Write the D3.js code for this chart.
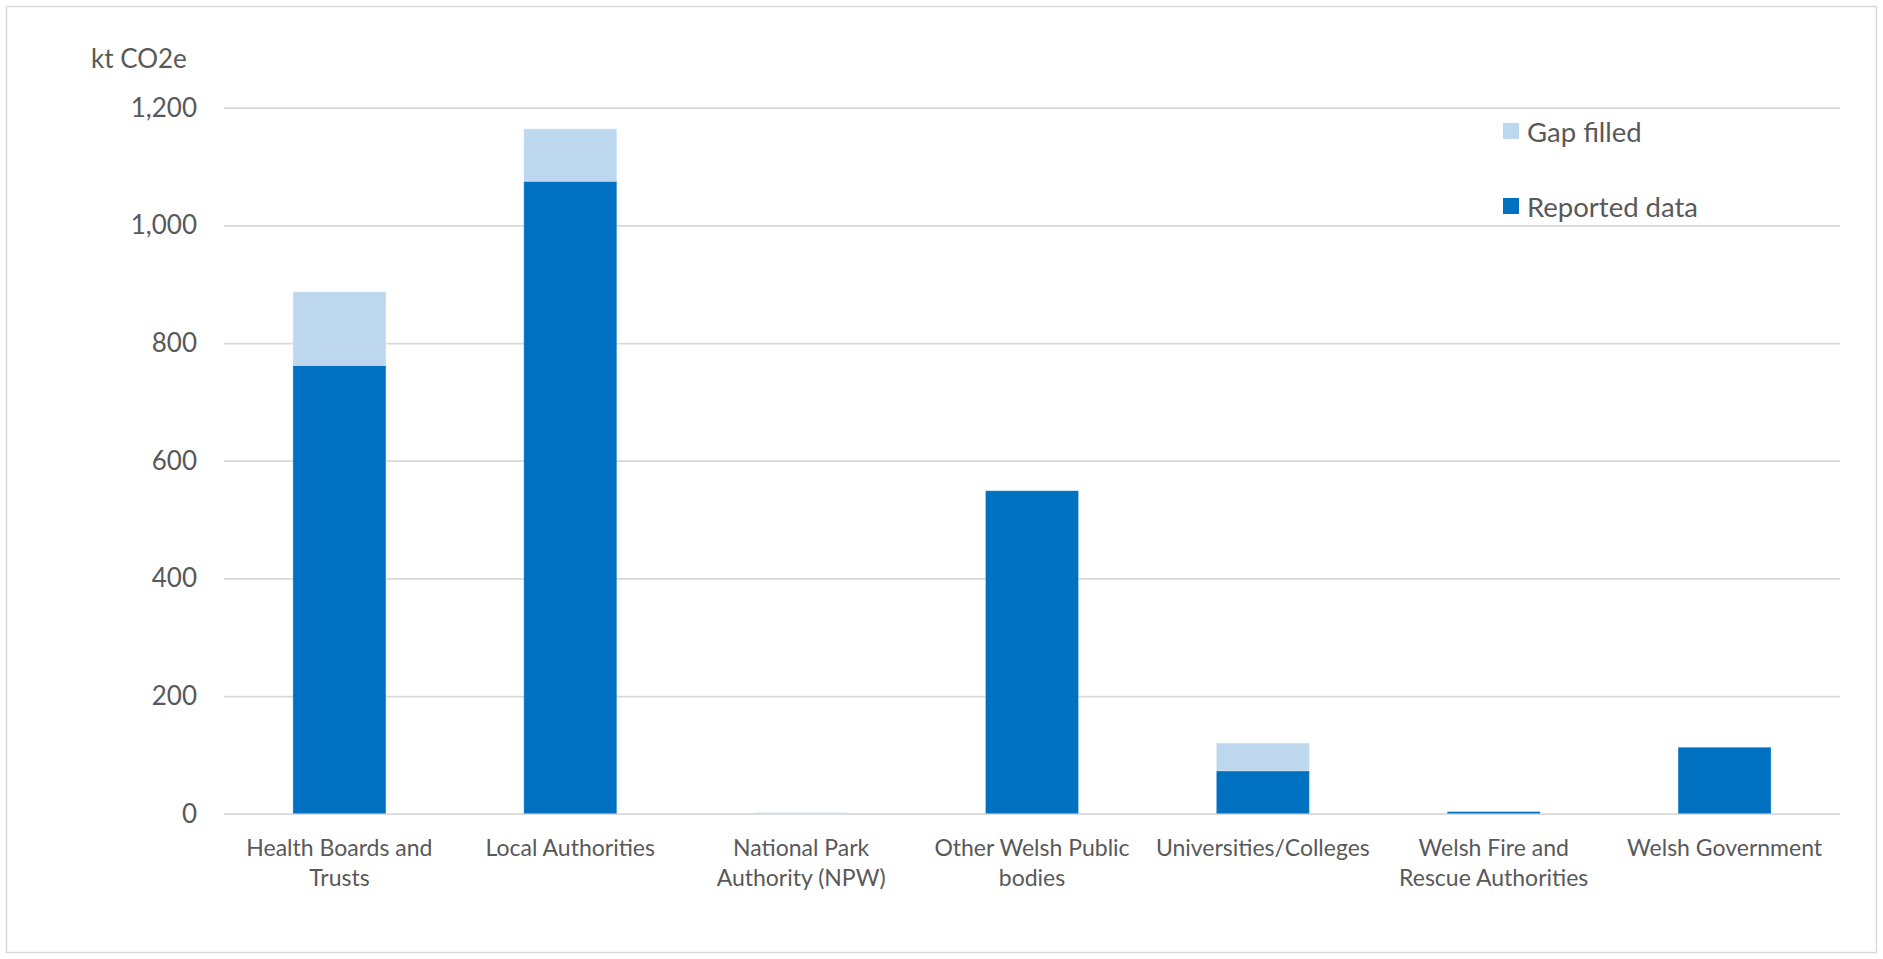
<!DOCTYPE html>
<html>
<head>
<meta charset="utf-8">
<script src="https://cdn.jsdelivr.net/npm/d3@7"></script>
<style>
  html, body { margin: 0; padding: 0; background: #ffffff; }
  svg { display: block; }
  text { font-family: Lato, "Noto Sans", sans-serif; fill: #595959; }
</style>
</head>
<body>
<svg id="chart" width="1883" height="959"></svg>
<script>
// Emissions by public-body category (kt CO2e)
const categories = [
  "Health Boards and Trusts",
  "Local Authorities",
  "National Park Authority (NPW)",
  "Other Welsh Public bodies",
  "Universities/Colleges",
  "Welsh Fire and Rescue Authorities",
  "Welsh Government"
];
// wrapped axis labels, one entry per category
const categoryLabelLines = [
  ["Health Boards and", "Trusts"],
  ["Local Authorities"],
  ["National Park", "Authority (NPW)"],
  ["Other Welsh Public", "bodies"],
  ["Universities/Colleges"],
  ["Welsh Fire and", "Rescue Authorities"],
  ["Welsh Government"]
];
const reportedData = [762, 1075, 0.5, 549, 73, 4, 113];
const gapFilled    = [125, 89, 1.5, 0, 47, 0.6, 0];
const yTicks = [0, 200, 400, 600, 800, 1000, 1200];
const seriesNames = ["Reported data", "Gap filled"];
const seriesColors = ["#0070C0", "#BDD7EE"];
const unitLabel = "kt CO2e";

const svg = d3.select("#chart");
const W = 1883, H = 959;

// outer chart frame
svg.append("rect")
  .attr("x", 6.5).attr("y", 6.5)
  .attr("width", W - 13).attr("height", H - 13)
  .attr("fill", "#ffffff")
  .attr("stroke", "#d9d9d9").attr("stroke-width", 1.5);

const x = d3.scaleBand()
  .domain(categories)
  .range([224, 1840])
  .paddingInner(0.597)
  .paddingOuter(0.2985);

const y = d3.scaleLinear()
  .domain([0, 1200])
  .range([813.7, 107.7]);

// gridlines + y tick labels
const yAxis = svg.append("g")
  .attr("transform", "translate(224,0)")
  .call(d3.axisLeft(y)
    .tickValues(yTicks)
    .tickSize(-(1840 - 224))
    .tickPadding(27)
    .tickFormat(d3.format(",")));
yAxis.select(".domain").remove();
yAxis.selectAll(".tick line")
  .attr("stroke", "#d9d9d9").attr("stroke-width", 1.8);
yAxis.selectAll(".tick text")
  .attr("fill", "#595959")
  .style("font-family", "Lato, sans-serif")
  .style("font-size", "26px");

// unit label
svg.append("text")
  .attr("x", 91).attr("y", 68)
  .style("font-size", "26px")
  .text(unitLabel);

// stacked bars
const rows = categories.map((c, i) => ({
  category: c,
  "Reported data": reportedData[i],
  "Gap filled": gapFilled[i]
}));
const stacked = d3.stack().keys(seriesNames)(rows);
const color = d3.scaleOrdinal().domain(seriesNames).range(seriesColors);

svg.append("g")
  .selectAll("g")
  .data(stacked)
  .join("g")
    .attr("fill", d => color(d.key))
  .selectAll("rect")
  .data(d => d)
  .join("rect")
    .attr("x", d => x(d.data.category))
    .attr("width", x.bandwidth())
    .attr("y", d => y(d[1]))
    .attr("height", d => Math.max(0, y(d[0]) - y(d[1])))
    .attr("stroke", "#ffffff")
    .attr("stroke-opacity", 0.3)
    .attr("stroke-width", 1);

// category labels
const xLab = svg.append("g");
categories.forEach((c, i) => {
  const t = xLab.append("text")
    .attr("x", x(c) + x.bandwidth() / 2)
    .attr("y", 856)
    .attr("text-anchor", "middle")
    .style("font-size", "23px");
  categoryLabelLines[i].forEach((line, j) => {
    t.append("tspan")
      .attr("x", x(c) + x.bandwidth() / 2)
      .attr("dy", j === 0 ? 0 : 30)
      .text(line);
  });
});

// legend
const legendItems = [
  { name: "Gap filled", color: seriesColors[1], cy: 131 },
  { name: "Reported data", color: seriesColors[0], cy: 206 }
];
const legend = svg.append("g");
legendItems.forEach(item => {
  legend.append("rect")
    .attr("x", 1503).attr("y", item.cy - 8)
    .attr("width", 16).attr("height", 16)
    .attr("fill", item.color);
  legend.append("text")
    .attr("x", 1527).attr("y", item.cy)
    .attr("dominant-baseline", "central")
    .style("font-size", "27.5px")
    .text(item.name);
});
</script>
</body>
</html>
